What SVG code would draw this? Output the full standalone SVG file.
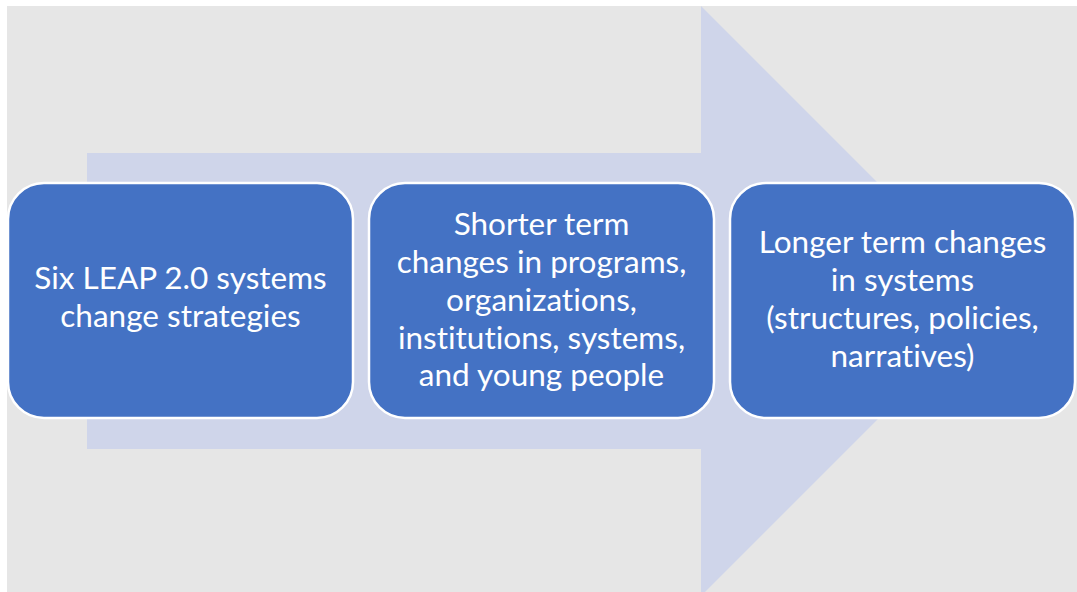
<svg xmlns="http://www.w3.org/2000/svg" width="1077" height="592" viewBox="0 0 1077 592">
  <style>
    .box { fill: #4472c4; stroke: #ffffff; stroke-width: 2.5; }
    .label { font-family: Lato, "Open Sans", "Liberation Sans", sans-serif; font-size: 31.5px; fill: #ffffff; text-anchor: middle; font-variant-ligatures: none; }
  </style>
  <rect x="0" y="0" width="1077" height="592" fill="#ffffff"/>
  <rect x="7" y="6" width="1070" height="586" fill="#e6e6e6"/>
  <!-- background block arrow -->
  <g id="flow-arrow">
    <polygon points="87,153 701,153 701,6 996,301 701,596 701,449 87,449" fill="#cfd5ea"/>
  </g>
  <g id="connectors"></g>
  <g id="node-strategies">
    <rect class="box" x="8" y="183" width="345" height="235" rx="36" ry="36"/>
    <text class="label" x="180.5" y="289">Six LEAP 2.0 systems</text>
    <text class="label" x="180.5" y="327">change strategies</text>
  </g>
  <g id="node-shorter-term">
    <rect class="box" x="369" y="183" width="345" height="235" rx="36" ry="36"/>
    <text class="label" x="541.5" y="235">Shorter term</text>
    <text class="label" x="541.5" y="273">changes in programs,</text>
    <text class="label" x="541.5" y="311">organizations,</text>
    <text class="label" x="541.5" y="349">institutions, systems,</text>
    <text class="label" x="541.5" y="386">and young people</text>
  </g>
  <g id="node-longer-term">
    <rect class="box" x="730" y="183" width="345" height="235" rx="36" ry="36"/>
    <text class="label" x="902.5" y="253">Longer term changes</text>
    <text class="label" x="902.5" y="291">in systems</text>
    <text class="label" x="902.5" y="329">(structures, policies,</text>
    <text class="label" x="902.5" y="367">narratives)</text>
  </g>
</svg>
